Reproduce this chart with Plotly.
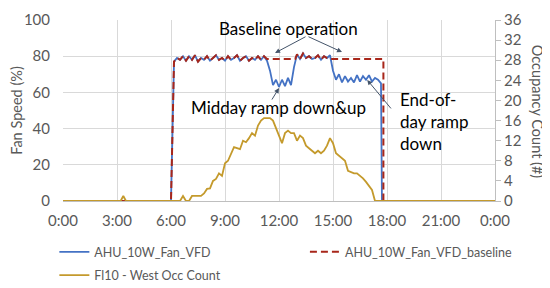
import plotly.graph_objects as go

# time grid (hours) for the occupied period, 10-min steps
GRID_START = 6 + 1 / 6

# AHU fan speed (%) from 6:10 to 17:40, 10-min samples
fan_vfd = [
    77, 79, 78, 80, 77.5,               # 6:10 - 6:50
    80, 78, 80.5, 77, 79, 78,           # 7:00
    80, 77.5, 79, 80.5, 78, 79,         # 8:00
    77.5, 80, 78, 79, 80.5, 77.5,       # 9:00
    79, 80, 77.5, 79, 78, 80,           # 10:00
    78, 80, 77.5, 72, 64, 67,           # 11:00
    63, 67, 63.5, 68, 64, 74,           # 12:00
    81, 78.5, 81.5, 79, 80, 78.5,       # 13:00
    79, 80.5, 78, 80, 79, 80.5,         # 14:00
    72, 67, 70, 65.5, 69, 66,           # 15:00
    68, 65.5, 69.5, 66, 69, 67,         # 16:00
    69.5, 66, 68, 67, 65,               # 17:00 - 17:40
]
baseline_level = 78.5

# Fl10 west occupancy count from 6:00 to 17:30, 10-min samples
occ_count = [
    0, 0, 0, 0, 1, 0,
    0, 1, 1, 1, 1, 1.5,
    2.4, 2.5, 4, 4.4, 5.5, 5,
    7.5, 8, 9.5, 10.7, 10.5, 10.3,
    12, 11.7, 12.5, 13.5, 13, 15,
    16, 16.5, 16.5, 16.5, 16, 14.5,
    13, 11.5, 13.5, 14, 13.5, 13.5,
    12, 13, 12.5, 11, 10.5, 10,
    9.5, 10, 9.5, 10, 11, 12.5,
    11.5, 9.5, 9, 8.5, 8, 6,
    5.8, 5.5, 5.5, 5, 4.5, 3.8,
    3, 2.2, 0, 0,
]
occ_blip_t = [0, 3.2, 3.35, 3.5]
occ_blip_v = [0, 0, 1, 0]

x_ticks = [0, 3, 6, 9, 12, 15, 18, 21, 24]
x_labels = ["0:00", "3:00", "6:00", "9:00", "12:00", "15:00", "18:00", "21:00", "0:00"]

BLUE = "#4472C4"
RED = "#A8261A"
GOLD = "#C49A2C"
GRID = "#D9D9D9"
TXT = "#595959"
ARROW = "#44546A"
FONT = "Lato"

# the page body adds an 8px margin (top and left), so the figure is drawn 8px smaller
PAGE_PAD = 8

fan_grid = [GRID_START + i / 6 for i in range(len(fan_vfd))]
fan_t = [0.0, 6.0] + fan_grid + [17.72, 24.0]
fan_v = [0, 0] + fan_vfd + [0, 0]

# baseline follows the fan except during the two ramp-down periods
i_mid0, i_mid1 = 31, 41      # 11:20 and 13:00
i_end = 52                   # 14:50
base_t = ([0.0, 6.0] + fan_grid[:i_mid0 + 1] + [12.9] + fan_grid[i_mid1:i_end + 1]
          + [17.8, 17.8, 24.0])
base_v = ([0, 0] + fan_vfd[:i_mid0] + [baseline_level, baseline_level]
          + fan_vfd[i_mid1:i_end] + [baseline_level, baseline_level, 0, 0])

occ_grid = [6 + i / 6 for i in range(len(occ_count))]
occ_t = occ_blip_t + occ_grid + [24.0]
occ_v = occ_blip_v + occ_count + [0]

fig = go.Figure()

fig.add_trace(go.Scatter(
    x=fan_t, y=fan_v, name="AHU_10W_Fan_VFD", mode="lines",
    line=dict(color=BLUE, width=1.8), legend="legend", legendgroup="fan",
))
fig.add_trace(go.Scatter(
    x=base_t, y=base_v, name="AHU_10W_Fan_VFD_baseline", mode="lines",
    line=dict(color=RED, width=2, dash="7px,4px"), legend="legend2",
))
fig.add_trace(go.Scatter(
    x=occ_t, y=occ_v, name="Fl10 - West Occ Count", mode="lines",
    line=dict(color=GOLD, width=1.8), yaxis="y2", legend="legend", legendgroup="occ",
))

# text callouts
fig.add_annotation(text="Baseline operation", xref="x", yref="paper",
                   x=12.5, y=1.022, showarrow=False, font=dict(size=17, color="black"))
fig.add_annotation(text="Midday ramp down&up", xref="x", yref="y",
                   x=11.97, y=51.4, showarrow=False, font=dict(size=17, color="black"))
fig.add_annotation(text="End-of-<br>day ramp<br>down", xref="x", yref="y",
                   x=18.6, y=44.2, xanchor="left", align="left", showarrow=False,
                   font=dict(size=17, color="black"))

# right axis title placed by hand so it stays inside the window
fig.add_annotation(text="Occupancy Count (#)", xref="paper", yref="paper",
                   x=1.099, y=0.494, textangle=90, showarrow=False,
                   xanchor="center", yanchor="middle",
                   font=dict(size=14.5, color=TXT))

# arrows
arrows = [
    (11.78, 81.8, 32, -17),
    (15.5, 82.3, -35, -16),
    (12.0, 62.4, -8, 13),
    (16.9, 66.9, 25, 30),
]
for ax_x, ax_y, dx, dy in arrows:
    fig.add_annotation(x=ax_x, y=ax_y, xref="x", yref="y", text="",
                       showarrow=True, ax=dx, ay=dy, arrowhead=2, arrowsize=1,
                       arrowwidth=1, arrowcolor=ARROW)

fig.update_layout(
    width=550 - PAGE_PAD, height=288 - PAGE_PAD,
    margin=dict(l=63 - PAGE_PAD, r=55, t=20 - PAGE_PAD, b=87, autoexpand=False),
    paper_bgcolor="white", plot_bgcolor="white",
    font=dict(family=FONT, size=15, color=TXT),
    legend=dict(x=-0.02, y=-0.2, xanchor="left", yanchor="top", tracegroupgap=4,
                font=dict(size=12.5, color=TXT), bgcolor="rgba(0,0,0,0)"),
    legend2=dict(x=0.56, y=-0.2, xanchor="left", yanchor="top",
                 font=dict(size=12.5, color=TXT), bgcolor="rgba(0,0,0,0)"),
    xaxis=dict(range=[0, 24], tickvals=x_ticks, ticktext=x_labels,
               showgrid=True, gridcolor=GRID, zeroline=False, automargin=False,
               showline=True, linecolor="#BFBFBF", ticklabelstandoff=6),
    yaxis=dict(range=[0, 100], dtick=20, showgrid=True, gridcolor=GRID,
               zeroline=False, ticklabelstandoff=12, automargin=False,
               title=dict(text="Fan Speed (%)", standoff=14, font=dict(size=14.5))),
    yaxis2=dict(range=[0, 36], dtick=4, overlaying="y", side="right",
                showgrid=False, zeroline=False, showline=True, linecolor="#BFBFBF",
                ticks="outside", ticklen=5, tickcolor="#BFBFBF", automargin=False),
)

fig.write_html("out.html")
